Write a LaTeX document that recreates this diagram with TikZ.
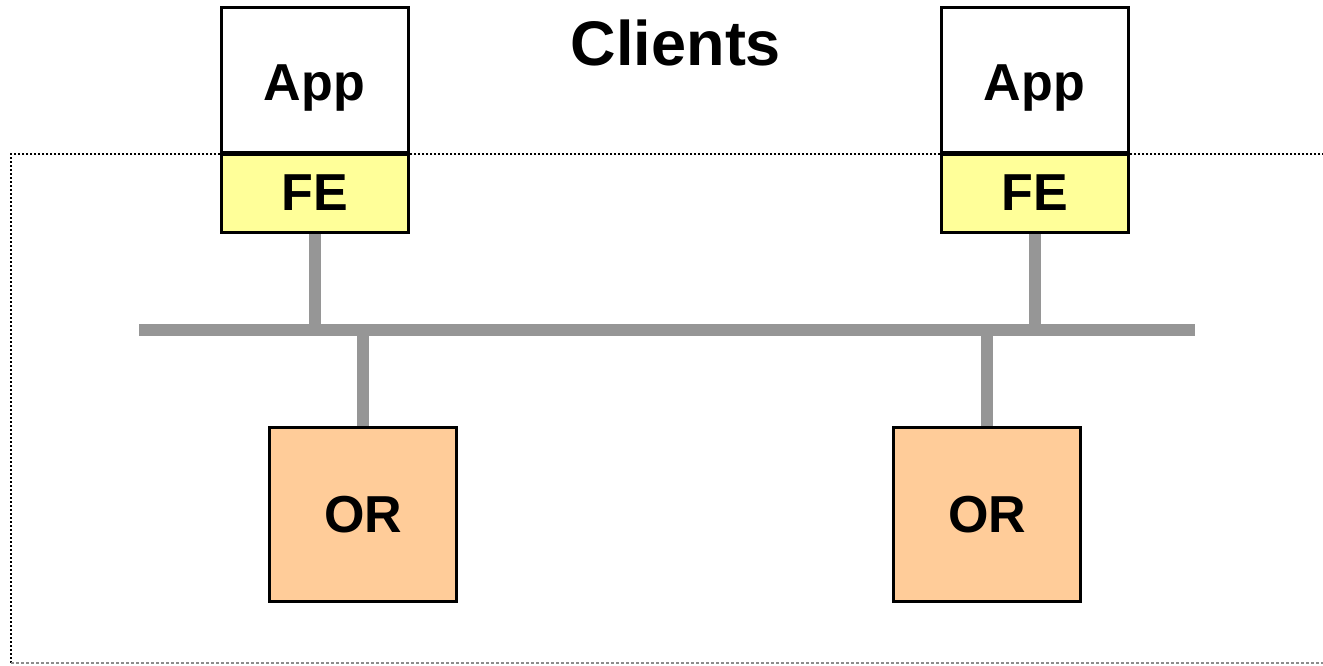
\documentclass[tikz,border=0pt]{standalone}
\usepackage{fontspec}
\setmainfont{Liberation Sans}
\begin{document}
\begin{tikzpicture}[x=1pt,y=-1pt,
  box/.style={draw=black,line width=3pt,rectangle,inner sep=0pt,
    minimum width=187pt,font=\bfseries\fontsize{52}{52}\selectfont},
  appbox/.style={box,fill=white,minimum height=145pt,text height=41pt,text depth=0pt},
  febox/.style={box,fill=feyellow,minimum height=78pt},
  orbox/.style={box,fill=orpeach,minimum height=174pt},
  wire/.style={draw=wiregrey,line width=12pt},
  frame/.style={draw=black,line width=2pt,dash pattern=on 2pt off 2pt}]
\definecolor{feyellow}{HTML}{FFFF99}
\definecolor{orpeach}{HTML}{FFCC99}
\definecolor{wiregrey}{HTML}{969696}
\useasboundingbox (0,0) rectangle (1323,665);
% dotted enclosure (right side runs off the page)
\begin{scope}
\clip (0,0) rectangle (1323,665);
\draw[frame] (1340,154) -- (11,154) -- (11,663);
\draw[frame,draw=black!45,line width=1.5pt,dash pattern=on 3pt off 2pt] (11,663) -- (1340,663);
\end{scope}
% title
\node[font=\bfseries\fontsize{63}{63}\selectfont] (clients) at (676,43) {Clients};
% bus
\coordinate (busL) at (139,330);
\coordinate (busR) at (1195,330);
\draw[wire] (busL) -- (busR);
% taps onto the bus
\coordinate (t1) at (315,324);
\coordinate (t2) at (1035,324);
\coordinate (t3) at (363,336);
\coordinate (t4) at (987,336);
% client stacks
\node[febox] (fe1) at (314.5,193) {FE};
\node[appbox,anchor=south] (app1) at (314.5,154) {App};
\node[febox] (fe2) at (1034.5,193) {FE};
\node[appbox,anchor=south] (app2) at (1034.5,154) {App};
% object replicas
\node[orbox] (or1) at (363,514.5) {OR};
\node[orbox] (or2) at (987,514.5) {OR};
% wires from the boxes to the bus
\draw[wire] (fe1.south -| t1) -- (t1);
\draw[wire] (fe2.south -| t2) -- (t2);
\draw[wire] (t3) -- (or1.north);
\draw[wire] (t4) -- (or2.north);
% redraw boxes over the wire ends
\node[febox] at (fe1) {FE};
\node[febox] at (fe2) {FE};
\node[orbox] at (or1) {OR};
\node[orbox] at (or2) {OR};
\end{tikzpicture}
\end{document}
